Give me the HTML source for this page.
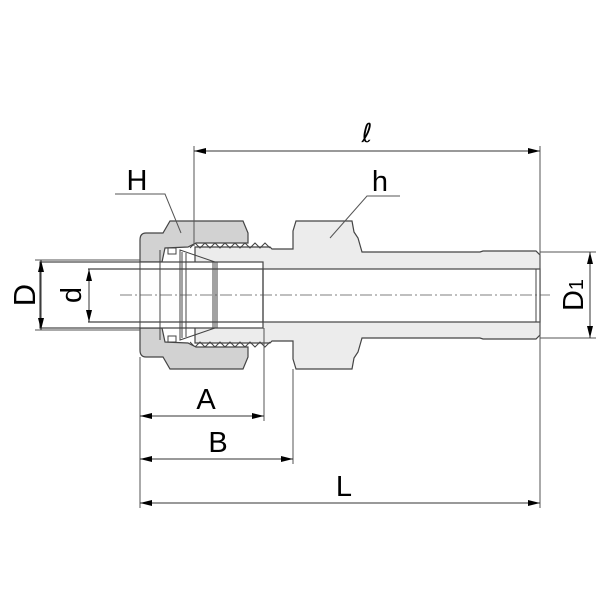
<!DOCTYPE html>
<html><head><meta charset="utf-8"><style>html,body{margin:0;padding:0;background:#fff}svg{display:block}</style></head>
<body>
<svg width="601" height="600" viewBox="0 0 601 600" xmlns="http://www.w3.org/2000/svg" font-family="Liberation Sans, sans-serif">
<defs>
<marker id="a" viewBox="0 0 12 6" refX="12" refY="3" markerWidth="12" markerHeight="6" orient="auto-start-reverse" markerUnits="userSpaceOnUse"><path d="M0,0 L12,3 L0,6 Z" fill="#000"/></marker>
</defs>
<path d="M195,247 L270,247 L272,249 L293,249 L293,231 L296,221 L352,221 L354,232 L358,238 L362,252 L480,252 L483,251 L536,251 L540,255 L540,335 L536,339 L483,339 L480,338 L362,338 L358,352 L354,358 L352,369 L296,369 L293,359 L293,341 L272,341 L270,343 L195,343 Z" fill="#ececec" stroke="#444" stroke-width="1.2"/>
<path d="M190,248 l5,-5 l5,5 l5,-5 l5,5 l5,-5 l5,5 l5,-5 l5,5 l5,-5 l5,5 l5,-5 l5,5 l5,-5 l5,5 l5,-5 l5,5" fill="none" stroke="#444" stroke-width="1"/>
<path d="M190,342 l5,5 l5,-5 l5,5 l5,-5 l5,5 l5,-5 l5,5 l5,-5 l5,5 l5,-5 l5,5 l5,-5 l5,5 l5,-5 l5,5 l5,-5" fill="none" stroke="#444" stroke-width="1"/>
<path d="M140,240 Q140,233 146,233 L163,233 L170,221 L243,221 L248,233 L248,243 L196,243 L188,247 L165,248 L162,262 L140,262 Z" fill="#d2d2d2" stroke="#444" stroke-width="1.2"/>
<path d="M140,350 Q140,357 146,357 L163,357 L170,369 L243,369 L248,357 L248,347 L196,347 L188,343 L165,342 L162,328 L140,328 Z" fill="#d2d2d2" stroke="#444" stroke-width="1.2"/>
<rect x="140" y="262" width="123" height="66" fill="#fff"/>
<rect x="168" y="248" width="8" height="6" fill="#fff" stroke="#444"/>
<rect x="168" y="336" width="8" height="6" fill="#fff" stroke="#444"/>
<path d="M180,250 L215,262 L215,328 L180,340 Z" fill="none" stroke="#444"/>
<rect x="263" y="269" width="277" height="53" fill="#fff" stroke="#444" stroke-width="1.2"/>
<line x1="536" y1="269" x2="536" y2="322" stroke="#444"/>
<rect x="40" y="262" width="223" height="66" fill="none" stroke="#444" stroke-width="1.2"/>
<line x1="88" y1="269" x2="263" y2="269" stroke="#444" stroke-width="1.2"/>
<line x1="88" y1="322" x2="263" y2="322" stroke="#444" stroke-width="1.2"/>
<g stroke="#444" stroke-width="1">
<line x1="160" y1="250" x2="160" y2="340"/>
<line x1="182" y1="252" x2="182" y2="338"/>
<line x1="186" y1="253" x2="186" y2="337"/>
<line x1="213" y1="262" x2="213" y2="328"/>
<line x1="217" y1="262" x2="217" y2="328"/>
<line x1="140" y1="262" x2="140" y2="328"/>
</g>
<line x1="120" y1="295" x2="550" y2="295" stroke="#555" stroke-width="0.8" stroke-dasharray="12,3,2,3"/>
<g stroke="#555" stroke-width="1" fill="none">
<line x1="194" y1="146" x2="194" y2="246"/>
<line x1="540" y1="146" x2="540" y2="508"/>
<line x1="140" y1="357" x2="140" y2="508"/>
<line x1="264" y1="328" x2="264" y2="421"/>
<line x1="293" y1="369" x2="293" y2="464"/>
<line x1="35" y1="260" x2="140" y2="260"/>
<line x1="35" y1="330" x2="140" y2="330"/>
<line x1="540" y1="252" x2="596" y2="252"/>
<line x1="540" y1="338" x2="596" y2="338"/>
<polyline points="115,194 165,194 181,233"/>
<polyline points="400,196 367,196 330,238"/>
</g>
<g stroke="#333" stroke-width="1" marker-start="url(#a)" marker-end="url(#a)">
<line x1="194" y1="151" x2="540" y2="151"/>
<line x1="140" y1="416" x2="264" y2="416"/>
<line x1="140" y1="459" x2="293" y2="459"/>
<line x1="140" y1="503" x2="540" y2="503"/>
<line x1="41" y1="260" x2="41" y2="330"/>
<line x1="89" y1="269" x2="89" y2="322"/>
<line x1="590" y1="252" x2="590" y2="338"/>
</g>
<g font-size="29" fill="#000" text-anchor="middle">
<text x="137" y="190">H</text>
<text x="380" y="191">h</text>
<text x="367" y="142" font-family="DejaVu Sans, sans-serif" font-size="26">ℓ</text>
<text x="206" y="409">A</text>
<text x="218" y="452">B</text>
<text x="344" y="496">L</text>
<text transform="translate(35,295) rotate(-90)" font-size="31">D</text>
<text transform="translate(81,295) rotate(-90)">d</text>
<text transform="translate(583,295) rotate(-90)">D<tspan font-size="20">1</tspan></text>
</g>
</svg>
</body></html>
